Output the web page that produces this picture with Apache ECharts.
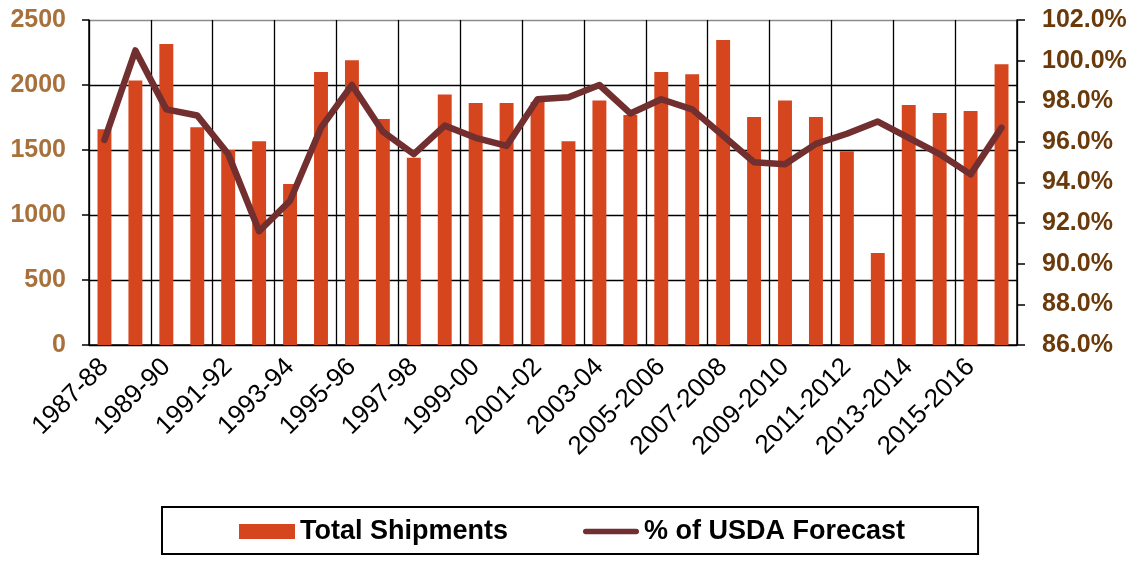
<!DOCTYPE html>
<html>
<head>
<meta charset="utf-8">
<script src="https://cdn.jsdelivr.net/npm/echarts@6/dist/echarts.min.js"></script>
<style>
  html, body { margin: 0; padding: 0; background: #fff; }
  #chart { width: 1135px; height: 561px; }
</style>
</head>
<body>
<div id="chart"></div>
<script>
// marketing years
var seasons = [
  '1987-88', '1988-89', '1989-90', '1990-91', '1991-92', '1992-93', '1993-94', '1994-95',
  '1995-96', '1996-97', '1997-98', '1998-99', '1999-00', '2000-01', '2001-02', '2002-03',
  '2003-04', '2004-05', '2005-2006', '2006-2007', '2007-2008', '2008-2009', '2009-2010',
  '2010-2011', '2011-2012', '2012-2013', '2013-2014', '2014-2015', '2015-2016', '2016-2017'
];
// total shipments (left axis)
var shipments = [
  1660, 2035, 2315, 1675, 1500, 1567, 1238, 2100, 2190, 1738,
  1441, 1926, 1862, 1862, 1870, 1567, 1880, 1770, 2100, 2082,
  2346, 1754, 1880, 1754, 1490, 708, 1846, 1785, 1800, 2159
];
// % of USDA forecast (right axis)
var pctForecast = [
  96.1, 100.5, 97.6, 97.3, 95.4, 91.6, 93.1, 96.7, 98.8, 96.5,
  95.4, 96.8, 96.2, 95.8, 98.1, 98.2, 98.8, 97.4, 98.1, 97.6,
  96.3, 95.0, 94.9, 95.9, 96.4, 97.0, 96.2, 95.4, 94.4, 96.7
];

var chart = echarts.init(document.getElementById('chart'));
chart.setOption({
  animation: false,
  textStyle: { fontFamily: 'Liberation Sans, Arial, sans-serif' },
  grid: { left: 89, right: 118, top: 20, bottom: 216 },
  legend: {
    left: 162,
    top: 507,
    orient: 'horizontal',
    borderColor: '#000',
    borderWidth: 2,
    padding: [11, 73, 9, 77],
    itemGap: 75,
    itemWidth: 56,
    itemHeight: 15,
    textStyle: { fontSize: 27, fontWeight: 'bold', color: '#000' },
    data: [
      { name: 'Total Shipments', icon: 'rect' },
      // rounded thick stroke like the line
      { name: '% of USDA Forecast', icon: 'path://M3,0 L57,0 A3,3 0 0 1 57,6 L3,6 A3,3 0 0 1 3,0 Z' }
    ]
  },
  xAxis: {
    type: 'category',
    data: seasons,
    boundaryGap: true,
    axisLine: { lineStyle: { color: '#000', width: 1.5 } },
    axisTick: { interval: 1, length: 8, lineStyle: { color: '#000', width: 1.5 } },
    splitLine: { show: true, interval: 1, lineStyle: { color: '#000', width: 1.3 } },
    axisLabel: { interval: 1, rotate: 45, margin: 18, fontSize: 26, color: '#000' }
  },
  yAxis: [
    {
      type: 'value',
      min: 0, max: 2500, interval: 500,
      axisLine: { show: true, lineStyle: { color: '#000', width: 1.5 } },
      axisTick: { show: true, length: 7, lineStyle: { color: '#000', width: 1.5 } },
      splitLine: { lineStyle: { color: ['#000', '#000', '#000', '#000', '#000', '#8c8c8c'], width: 1.3 } },
      axisLabel: {
        margin: 23, fontSize: 25, fontWeight: 'bold', color: '#A8703A',
        formatter: function (v) { return String(v); }
      }
    },
    {
      type: 'value',
      min: 86, max: 102, interval: 2,
      axisLine: { show: true, lineStyle: { color: '#000', width: 1.5 } },
      axisTick: { show: true, length: 8, lineStyle: { color: '#000', width: 1.5 } },
      splitLine: { show: false },
      axisLabel: {
        margin: 25, fontSize: 25, fontWeight: 'bold', color: '#6B3A0B',
        formatter: function (v) { return v.toFixed(1) + '%'; }
      }
    }
  ],
  series: [
    {
      name: 'Total Shipments',
      type: 'bar',
      data: shipments,
      barWidth: '45%',
      itemStyle: { color: '#D5451E' }
    },
    {
      name: '% of USDA Forecast',
      type: 'line',
      yAxisIndex: 1,
      data: pctForecast,
      symbol: 'none',
      lineStyle: { color: '#722F30', width: 6.5, cap: 'round', join: 'round' },
      itemStyle: { color: '#722F30' },
      z: 5
    }
  ]
});
</script>
</body>
</html>
